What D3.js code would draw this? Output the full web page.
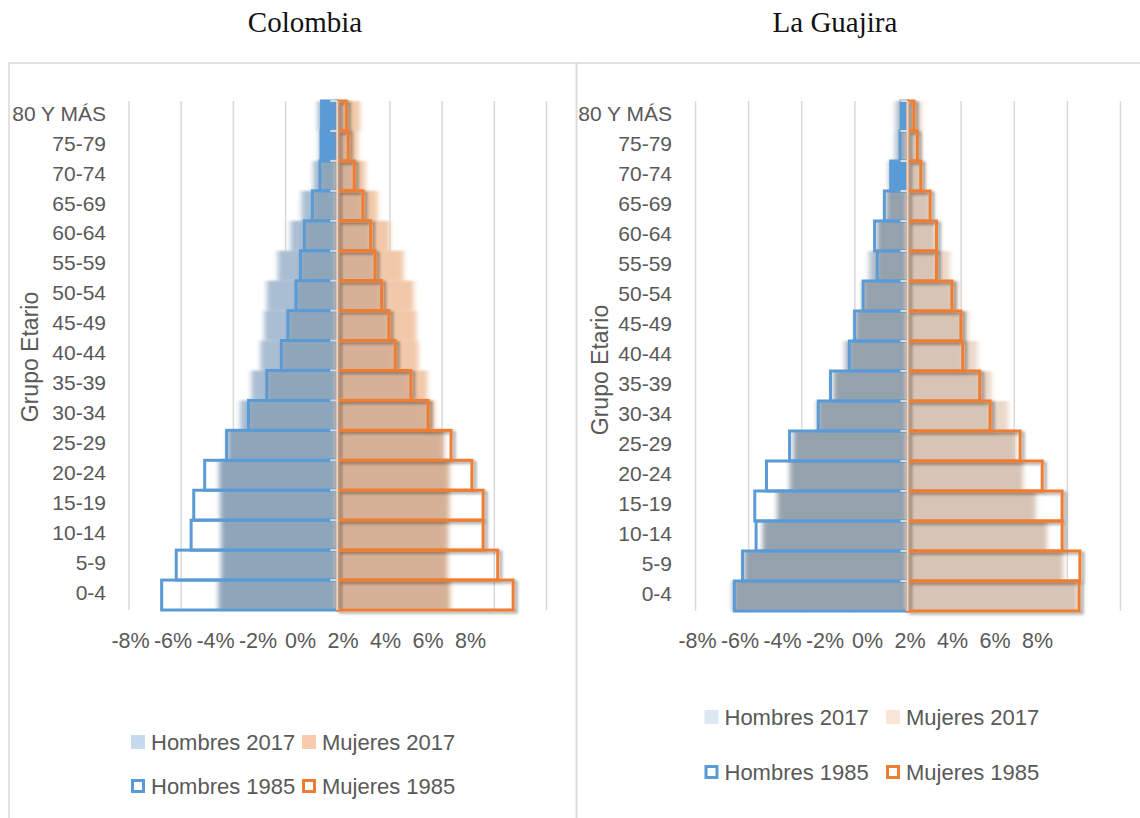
<!DOCTYPE html>
<html>
<head>
<meta charset="utf-8">
<script src="https://cdn.jsdelivr.net/npm/d3@7"></script>
<style>
    body { margin: 0; background: #fff; }
    svg text { font-family: "Liberation Sans", Arial, sans-serif; fill: #595959; }
    svg .title { font-family: Georgia, "Liberation Serif", serif; fill: #111; }
</style>
</head>
<body>
<svg id="chart" width="1140" height="818"></svg>
<script>
// DATA (% of total population, top row first)
const ageGroups = ['80 Y MÁS', '75-79', '70-74', '65-69', '60-64', '55-59', '50-54', '45-49', '40-44',
    '35-39', '30-34', '25-29', '20-24', '15-19', '10-14', '5-9', '0-4'];

const colombiaHombres2017 = [0.75, 0.7, 0.92, 1.37, 1.79, 2.28, 2.7, 2.8, 2.94, 3.29, 3.72, 4.2, 4.52, 4.48, 4.45, 4.45, 4.55];
const colombiaMujeres2017 = [0.87, 0.79, 1.08, 1.54, 2.01, 2.54, 2.93, 3.03, 3.1, 3.45, 3.73, 4.08, 4.29, 4.29, 4.25, 4.22, 4.32];
const colombiaHombres1985 = [0.6, 0.62, 0.66, 0.95, 1.26, 1.41, 1.58, 1.89, 2.14, 2.7, 3.4, 4.24, 5.08, 5.5, 5.6, 6.17, 6.73];
const colombiaMujeres1985 = [0.35, 0.42, 0.65, 0.98, 1.28, 1.45, 1.7, 1.98, 2.22, 2.82, 3.48, 4.36, 5.16, 5.59, 5.59, 6.15, 6.74];

const guajiraHombres2017 = [0.45, 0.47, 0.7, 0.8, 1.14, 1.45, 1.69, 1.96, 2.37, 2.78, 3.4, 4.29, 4.43, 4.9, 5.45, 6.14, 6.6];
const guajiraMujeres2017 = [0.53, 0.47, 0.64, 0.85, 1.05, 1.6, 1.94, 2.29, 2.63, 3.17, 3.79, 4.07, 4.34, 4.82, 5.25, 5.85, 6.4];
const guajiraHombres1985 = [0.24, 0.28, 0.63, 0.87, 1.24, 1.14, 1.67, 1.99, 2.19, 2.9, 3.36, 4.44, 5.31, 5.75, 5.7, 6.21, 6.52];
const guajiraMujeres1985 = [0.24, 0.37, 0.5, 0.85, 1.09, 1.09, 1.67, 2.01, 2.08, 2.72, 3.11, 4.24, 5.07, 5.82, 5.82, 6.49, 6.46];

const gridValues = [-8, -6, -4, -2, 0, 2, 4, 6, 8];
const tickLabels = ['-8%', '-6%', '-4%', '-2%', '0%', '2%', '4%', '6%', '8%'];
const legend2017 = ['Hombres 2017', 'Mujeres 2017'];
const legend1985 = ['Hombres 1985', 'Mujeres 1985'];

// 1985 male bars that come out solid in the original
const solidHombres1985 = {
    'Colombia': ['80 Y MÁS', '75-79'],
    'La Guajira': ['80 Y MÁS', '70-74']
};

const BLUE = '#5b9bd5';
const ORANGE = '#ed7d31';

const svg = d3.select('#chart');

// FILTERS
const defs = svg.append('defs');
defs.append('filter')
    .attr('id', 'soft')
    .attr('filterUnits', 'userSpaceOnUse')
    .attr('x', 0).attr('y', 0).attr('width', 1140).attr('height', 818)
    .append('feGaussianBlur')
    .attr('stdDeviation', '2.5 0.8');

defs.append('filter')
    .attr('id', 'shadow')
    .attr('filterUnits', 'userSpaceOnUse')
    .attr('x', 0).attr('y', 0).attr('width', 1140).attr('height', 818)
    .append('feDropShadow')
    .attr('dx', 3).attr('dy', 2)
    .attr('stdDeviation', 1.5)
    .attr('flood-color', '#000')
    .attr('flood-opacity', 0.35);

const panels = [
    {
        title: 'Colombia', titleX: 305,
        frameX: 9, frameW: 567.5,
        xRange: [128.5, 546], yRange: [101, 610],
        labelRight: 106, yTitleX: 30, yTitleY: 357,
        tickRange: [130, 470], tickY: 633,
        legendX: 131, legendStep: 171, legendY: [742, 786],
        hombres2017: colombiaHombres2017, mujeres2017: colombiaMujeres2017,
        hombres1985: colombiaHombres1985, mujeres1985: colombiaMujeres1985,
        menLight: '#aabed3', menDark: '#8ea5ba',
        womenLight: '#f1c8a9', womenDark: '#d6b197',
        swatchMen: '#c5d9ef', swatchWomen: '#f8cbad'
    },
    {
        title: 'La Guajira', titleX: 835,
        frameX: 576.5, frameW: 600,
        xRange: [695, 1120], yRange: [101, 611],
        labelRight: 672, yTitleX: 600, yTitleY: 370,
        tickRange: [697, 1037], tickY: 633,
        legendX: 704.5, legendStep: 181.5, legendY: [717, 772],
        hombres2017: guajiraHombres2017, mujeres2017: guajiraMujeres2017,
        hombres1985: guajiraHombres1985, mujeres1985: guajiraMujeres1985,
        menLight: '#b9c3ce', menDark: '#95a2ae',
        womenLight: '#ead8ca', womenDark: '#d7c4b5',
        swatchMen: '#dde8f5', swatchWomen: '#fbe5d6'
    }
];

panels.forEach(drawPanel);

function drawPanel(p) {
    const x = d3.scaleLinear().domain([-8, 8]).range(p.xRange);
    const y = d3.scaleBand().domain(ageGroups).range(p.yRange).padding(0);
    const bw = y.bandwidth();
    const g = svg.append('g');

    const rows = ageGroups.map((age, i) => ({
        age: age,
        h17: p.hombres2017[i], m17: p.mujeres2017[i],
        h85: p.hombres1985[i], m85: p.mujeres1985[i]
    }));
    const solid = solidHombres1985[p.title] || [];

    // FRAME + TITLE
    g.append('rect')
        .attr('x', p.frameX).attr('y', 63)
        .attr('width', p.frameW).attr('height', 800)
        .attr('fill', 'none')
        .attr('stroke', '#d9d9d9')
        .attr('stroke-width', 1.5);

    svg.append('text')
        .attr('class', 'title')
        .attr('x', p.titleX).attr('y', 32)
        .attr('text-anchor', 'middle')
        .style('font-size', '29px')
        .text(p.title);

    // GRID
    g.append('g')
        .attr('transform', `translate(0,${p.yRange[0]})`)
        .call(d3.axisBottom(x).tickValues(gridValues).tickSize(p.yRange[1] - p.yRange[0]).tickFormat(''))
        .call(s => s.select('.domain').remove())
        .selectAll('line')
        .attr('stroke', '#d9d9d9')
        .attr('stroke-width', 1.5);

    // 2017 BARS (soft edges, darker where they sit inside the 1985 bar)
    const men = g.append('g').attr('filter', 'url(#soft)');
    men.selectAll('.light').data(rows).join('rect')
        .attr('class', 'light')
        .attr('x', d => x(-d.h17))
        .attr('y', d => y(d.age))
        .attr('width', d => x(0) - x(-d.h17))
        .attr('height', bw)
        .attr('fill', p.menLight);
    men.selectAll('.dark').data(rows).join('rect')
        .attr('class', 'dark')
        .attr('x', d => x(-Math.min(d.h17, d.h85)))
        .attr('y', d => y(d.age))
        .attr('width', d => x(0) - x(-Math.min(d.h17, d.h85)))
        .attr('height', bw)
        .attr('fill', p.menDark);

    const women = g.append('g').attr('filter', 'url(#soft)');
    women.selectAll('.light').data(rows).join('rect')
        .attr('class', 'light')
        .attr('x', x(0))
        .attr('y', d => y(d.age))
        .attr('width', d => x(d.m17) - x(0))
        .attr('height', bw)
        .attr('fill', p.womenLight);
    women.selectAll('.dark').data(rows).join('rect')
        .attr('class', 'dark')
        .attr('x', x(0))
        .attr('y', d => y(d.age))
        .attr('width', d => x(Math.min(d.m17, d.m85)) - x(0))
        .attr('height', bw)
        .attr('fill', p.womenDark);

    // 1985 OUTLINES
    g.append('g').selectAll('rect').data(rows).join('rect')
        .attr('x', d => x(-d.h85))
        .attr('y', d => y(d.age))
        .attr('width', d => x(0) - x(-d.h85))
        .attr('height', bw)
        .attr('fill', d => solid.includes(d.age) ? BLUE : 'none')
        .attr('stroke', BLUE)
        .attr('stroke-width', 3);

    g.append('g').attr('filter', 'url(#shadow)')
        .selectAll('rect').data(rows).join('rect')
        .attr('x', x(0))
        .attr('y', d => y(d.age))
        .attr('width', d => x(d.m85) - x(0))
        .attr('height', bw)
        .attr('fill', 'none')
        .attr('stroke', ORANGE)
        .attr('stroke-width', 3);

    // CENTRE AXIS + small ticks
    g.append('line')
        .attr('x1', x(0)).attr('x2', x(0))
        .attr('y1', p.yRange[0]).attr('y2', p.yRange[1])
        .attr('stroke', '#d9d9d9')
        .attr('stroke-width', 2);
    g.append('g').selectAll('line').data(rows).join('line')
        .attr('x1', x(0) - 7).attr('x2', x(0))
        .attr('y1', d => y(d.age)).attr('y2', d => y(d.age))
        .attr('stroke', '#d9d9d9')
        .attr('stroke-width', 2);

    // CATEGORY LABELS
    g.append('g')
        .attr('transform', `translate(${p.labelRight},-2)`)
        .call(d3.axisLeft(y).tickSize(0).tickPadding(0))
        .call(s => s.select('.domain').remove())
        .selectAll('text')
        .style('font-size', '21px')
        .attr('fill', '#595959');

    // X TICK LABELS (bunched together like the original)
    const tickScale = d3.scalePoint().domain(tickLabels).range(p.tickRange);
    g.append('g')
        .attr('transform', `translate(0,${p.tickY})`)
        .call(d3.axisBottom(tickScale).tickSize(0).tickPadding(0))
        .call(s => s.select('.domain').remove())
        .selectAll('text')
        .style('font-size', '21.5px')
        .attr('fill', '#595959');

    // AXIS TITLE
    g.append('text')
        .attr('transform', `translate(${p.yTitleX},${p.yTitleY}) rotate(-90)`)
        .attr('text-anchor', 'middle')
        .attr('dy', '0.35em')
        .style('font-size', '23px')
        .text('Grupo Etario');

    // LEGEND
    const legendRows = [
        { labels: legend2017, y: p.legendY[0], filled: true },
        { labels: legend1985, y: p.legendY[1], filled: false }
    ];
    const colors2017 = [p.swatchMen, p.swatchWomen];
    const colors1985 = [BLUE, ORANGE];
    legendRows.forEach(r => {
        r.labels.forEach((label, k) => {
            const sx = p.legendX + k * p.legendStep;
            if (r.filled) {
                g.append('rect')
                    .attr('x', sx).attr('y', r.y - 7)
                    .attr('width', 14).attr('height', 14)
                    .attr('fill', colors2017[k]);
            } else {
                g.append('rect')
                    .attr('x', sx + 1.5).attr('y', r.y - 5.5)
                    .attr('width', 11).attr('height', 11)
                    .attr('fill', '#fff')
                    .attr('stroke', colors1985[k])
                    .attr('stroke-width', 3);
            }
            g.append('text')
                .attr('x', sx + 20).attr('y', r.y)
                .attr('dy', '0.35em')
                .style('font-size', '22px')
                .text(label);
        });
    });
}
</script>
</body>
</html>
